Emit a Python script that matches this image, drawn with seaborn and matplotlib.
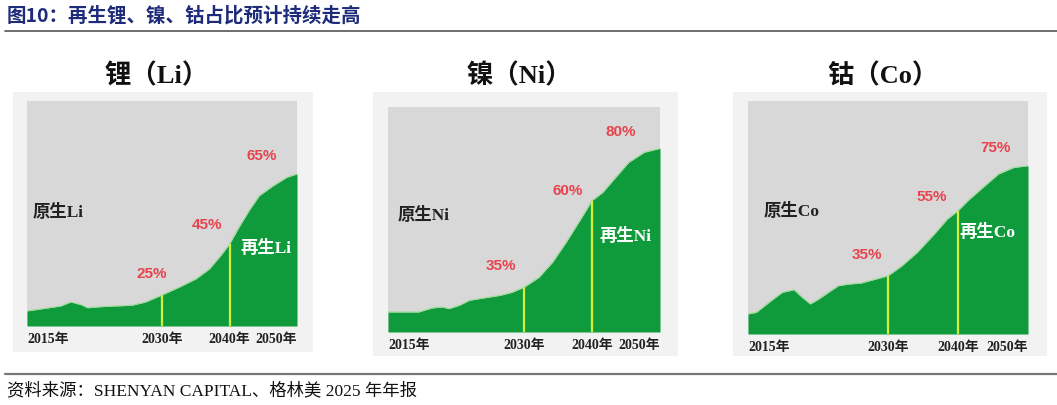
import matplotlib
matplotlib.use('Agg')
import matplotlib.pyplot as plt
import numpy as np
import seaborn as sns
import pandas as pd
from matplotlib.patches import Rectangle
from matplotlib.lines import Line2D

sns.set_theme(style='white')
plt.rcParams['font.family'] = ['Liberation Serif', 'Noto Sans CJK SC', 'DejaVu Sans']

# schematic curves: share of recycled metal (% of the plot height) by year
li_years = [2010, 2013, 2015, 2016.5, 2018, 2019, 2021, 2023, 2025.5, 2027.5, 2030,
            2032.5, 2035, 2037, 2038.7, 2040, 2041.4, 2042.9, 2044.4, 2046.5, 2048.5, 2050]
li_share = [6.7, 8.0, 8.9, 10.7, 9.5, 8.1, 8.6, 8.9, 9.2, 10.6, 13.8,
            17.2, 20.9, 25.3, 31.3, 36.4, 43.9, 51.3, 57.9, 62.4, 66.1, 67.6]
ni_years = [2010, 2014.5, 2016.5, 2018, 2019, 2020.5, 2022, 2024, 2026.5, 2028.2, 2030,
            2032.2, 2034.2, 2036.2, 2038.2, 2040, 2041.6, 2043.5, 2045.4, 2047.7, 2050]
ni_share = [8.9, 8.9, 10.7, 11.1, 10.4, 11.9, 14.1, 15.1, 16.3, 17.6, 19.9,
            24.3, 31.0, 39.9, 49.5, 58.4, 62.1, 68.8, 75.4, 79.9, 81.6]
co_years = [2010, 2011.2, 2013, 2014.9, 2016.6, 2017.5, 2018.9, 2020.1, 2021.5, 2022.9, 2024.3,
            2026.2, 2028.3, 2030, 2032, 2034.2, 2036.4, 2038.5, 2040, 2041.4, 2043.6, 2045.8, 2048, 2050]
co_share = [8.6, 9.3, 13.6, 17.9, 19.0, 16.4, 12.9, 15.0, 17.9, 20.7, 21.4,
            21.9, 23.6, 25.0, 29.3, 35.1, 42.2, 49.4, 52.9, 57.2, 63.0, 68.7, 71.5, 72.2]

titles = ['锂（Li）', '镍（Ni）', '钴（Co）']
metals = ['Li', 'Ni', 'Co']
mark_years = [2030, 2040, 2050]
pct_labels = [['25%', '45%', '65%'], ['35%', '60%', '80%'], ['35%', '55%', '75%']]
tick_years = [2010, 2030, 2040, 2050]
tick_labels = ['2015年', '2030年', '2040年', '2050年']

GREEN = '#0f9b3b'
GRAY = '#d8d8d8'
YELLOW = '#d2f03a'
RED = '#e8434c'

W, H = 1057, 406
fig = plt.figure(figsize=(W / 100, H / 100), dpi=100)

def fx(px):
    return px / W

def fy(py):
    return 1 - py / H

# axes boxes in pixels: (left, top, right, bottom)
inner = [(27, 102, 297, 327), (388, 108, 660, 333), (748, 102, 1028, 335)]
outer = [(13, 93, 313, 353), (373, 93, 678, 357), (733, 93, 1047, 357)]
raw_pos = [(0.022, 0.51), (0.037, 0.524), (0.054, 0.528)]
rec_pos = [(0.789, 0.351), (0.779, 0.427), (0.757, 0.438)]
pct_off = [[(-10, 15), (-22, 13), (-35, 12)],
           [(-23, 15), (-24, 4), (-39, 10)],
           [(-21, 15), (-26, 8), (-32, 12)]]

data = [(li_years, li_share), (ni_years, ni_share), (co_years, co_share)]

for i in range(3):
    l, t, r, b = outer[i]
    fig.patches.append(Rectangle((fx(l), fy(b)), fx(r - l), (b - t) / H,
                                 transform=fig.transFigure, facecolor='#f2f2f2',
                                 edgecolor='none', zorder=-5))
    l, t, r, b = inner[i]
    ax = fig.add_axes([fx(l), fy(b), fx(r - l), (b - t) / H])
    ax.set_zorder(2)
    ax.set_facecolor(GRAY)
    yrs, share = data[i]
    df = pd.DataFrame({'year': yrs, 'share': share})
    ax.fill_between(df['year'], 0, df['share'], color=GREEN, lw=0)
    sns.lineplot(data=df, x='year', y='share', ax=ax, color='#9fdc9a', lw=0.8)
    for k, yr in enumerate(mark_years):
        v = df.loc[df['year'] == yr, 'share'].iloc[0]
        if yr < 2050:
            ax.vlines(yr, 0, v, color=YELLOW, lw=1.6)
        dx, dy = pct_off[i][k]
        ax.annotate(pct_labels[i][k], (yr, v), xytext=(dx * 0.72, dy * 0.72),
                    textcoords='offset points', ha='center', va='bottom',
                    color=RED, fontsize=11, fontweight='bold', family=['Liberation Sans', 'DejaVu Sans'])
    ax.set_xlim(2010, 2050)
    ax.set_ylim(0, 100)
    ax.set_yticks([])
    ax.set_xticks(tick_years)
    ax.set_xticklabels(tick_labels, fontsize=10, fontweight='bold', color='#222222')
    labs = ax.get_xticklabels()
    labs[0].set_ha('left')
    labs[-1].set_ha('right')
    ax.tick_params(axis='x', length=0, pad=4)
    ax.set_xlabel('')
    ax.set_ylabel('')
    for s in ax.spines.values():
        s.set_visible(False)
    ax.text(raw_pos[i][0], raw_pos[i][1], '原生' + metals[i], transform=ax.transAxes,
            fontsize=12.5, fontweight='bold', color='#222222', va='center', ha='left')
    ax.text(rec_pos[i][0], rec_pos[i][1], '再生' + metals[i], transform=ax.transAxes,
            fontsize=12.5, fontweight='bold', color='white', va='center', ha='left')
    fig.text(fx((l + r) / 2 - 5), fy(76), titles[i], ha='center', va='center',
             fontsize=19, fontweight='bold', color='#111111')

fig.text(fx(7), fy(16), '图10：再生锂、镍、钴占比预计持续走高', ha='left', va='center',
         fontsize=14, fontweight='bold', color='#1d2b7a',
         family=['Noto Sans CJK SC', 'DejaVu Sans'])
fig.add_artist(Line2D([fx(5), 1], [fy(32), fy(32)], color='#555555', lw=1.2))
fig.add_artist(Line2D([fx(5), 1], [fy(375), fy(375)], color='#777777', lw=1.6))
fig.text(fx(7), fy(391), '资料来源：SHENYAN CAPITAL、格林美 2025 年年报', ha='left', va='center',
         fontsize=12.5, color='#111111')

fig.savefig('out.png', dpi=100, facecolor='white')
